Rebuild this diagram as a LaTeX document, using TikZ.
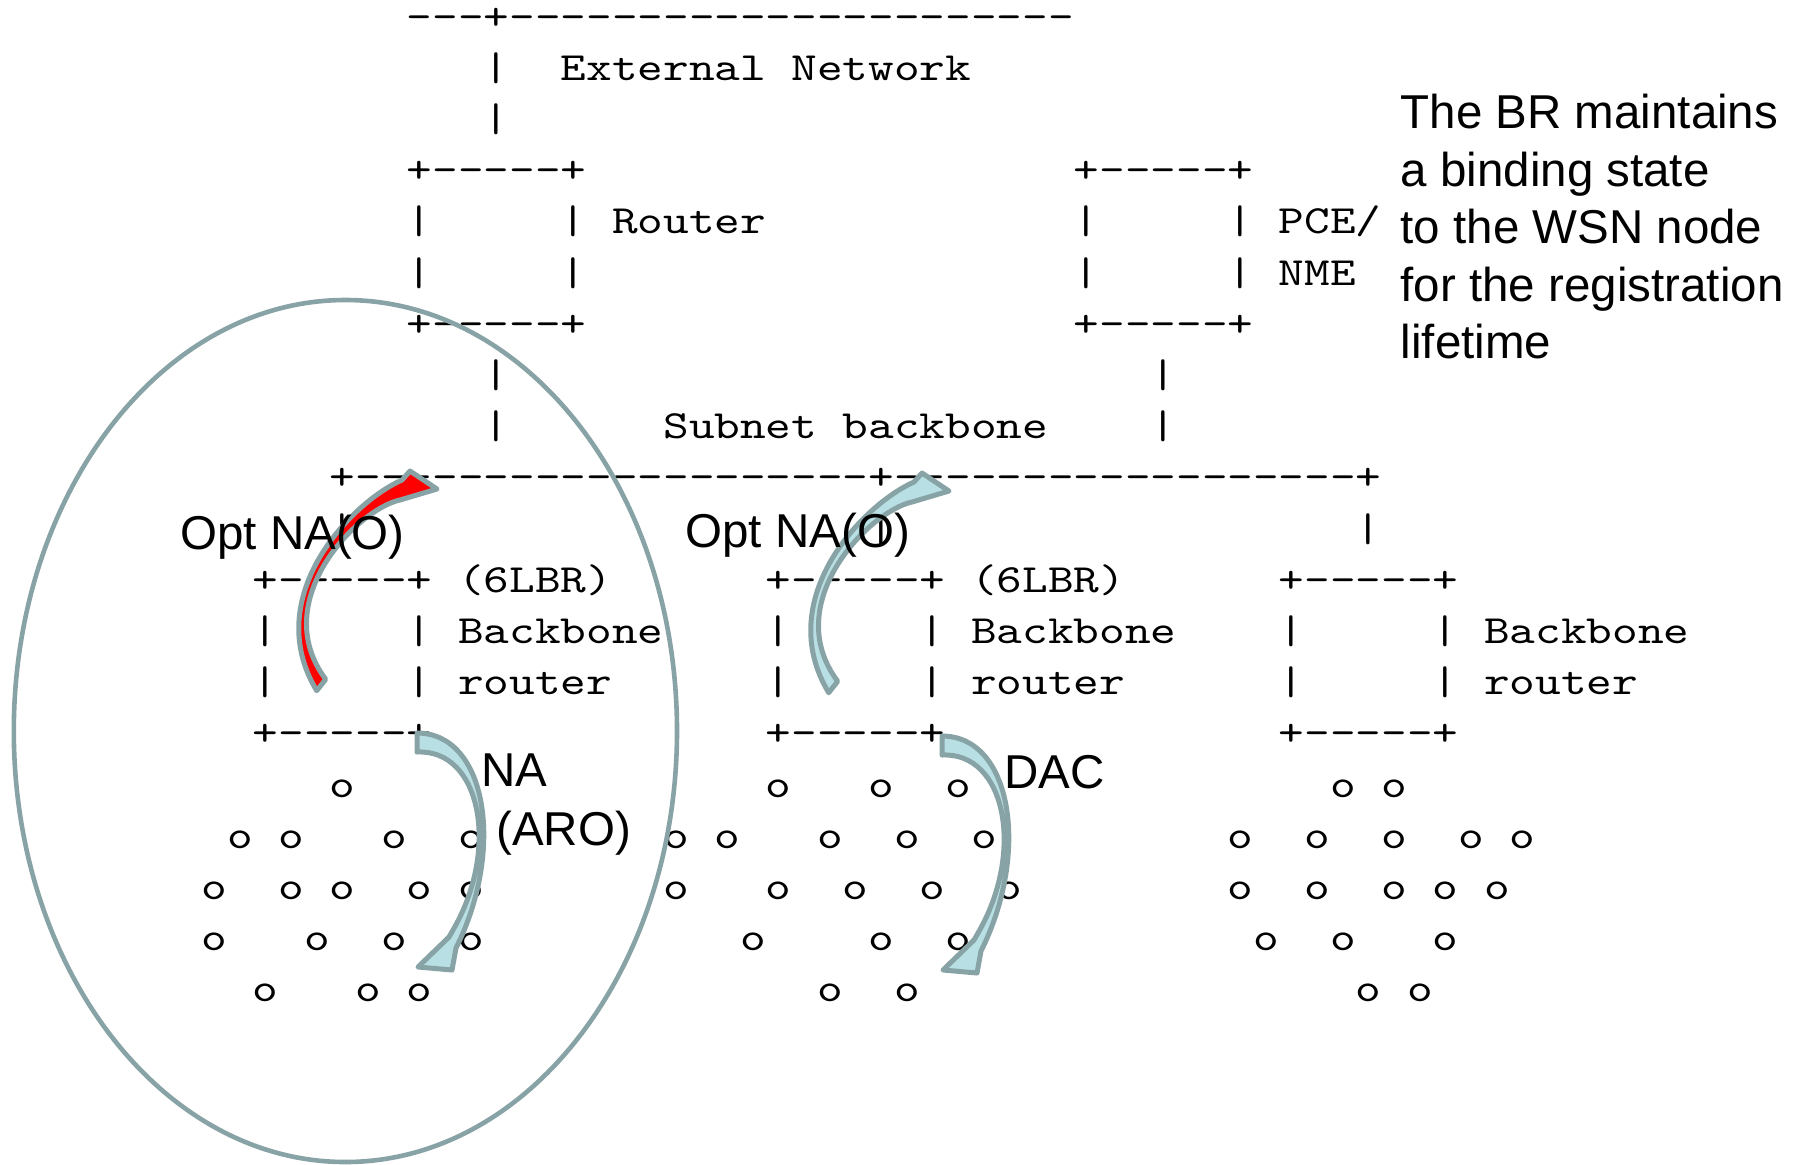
\documentclass[tikz,border=0pt]{standalone}
\usepackage{graphicx}
\usepackage{fontspec}
\newfontfamily\asciifont{lmmono10-regular.otf}
\newfontfamily\arialfont{Liberation Sans}
\definecolor{shapegray}{RGB}{136,163,166}
\definecolor{arrowcyan}{RGB}{184,224,228}
\definecolor{arrowred}{RGB}{255,0,0}
\newcommand\dsh[1]{\foreach\ii in {1,...,#1}{-\kern0pt}}
\newcommand\asc[4]{\node[ascii] (#1) at ({214.5+25.65*(#2)-12.825},{29+51.2*(#3)}) {\scalebox{1.2214}[1]{#4}};}
\tikzset{
  ascii/.style={anchor=base west, inner sep=0pt, outer sep=0pt,
    font=\asciifont\fontsize{20pt}{24pt}\selectfont},
  lbltext/.style={anchor=base west, inner sep=0pt, outer sep=0pt,
    font=\arialfont\fontsize{23.75pt}{28.75pt}\selectfont},
  arrowbody/.style={draw=shapegray, line width=2.5pt, line join=round},
  zone/.style={draw=shapegray, line width=2.3pt}
}
\begin{document}
\begin{tikzpicture}[x=0.5pt,y=-0.5pt]
\fill[white] (0,0) rectangle (1798,1164);
\useasboundingbox (0,0) rectangle (1798,1164);

% ---------- ASCII art ----------
\asc{top}{8}{0}{\dsh{3}+\dsh{22}}
\asc{ext1}{11}{1}{|}
\asc{extA}{14}{1}{External}
\asc{extB}{23}{1}{Network}
\asc{ext2}{11}{2}{|}
\asc{rtop}{8}{3}{+\dsh{5}+}
\asc{ptop}{34}{3}{+\dsh{5}+}
\asc{rl1}{8}{4}{|}
\asc{rr1}{14}{4}{|}
\asc{rlbl}{16}{4}{Router}
\asc{pl1}{34}{4}{|}
\asc{pr1}{40}{4}{|}
\asc{plbl}{42}{4}{PCE/}
\asc{rl2}{8}{5}{|}
\asc{rr2}{14}{5}{|}
\asc{pl2}{34}{5}{|}
\asc{pr2}{40}{5}{|}
\asc{plbl2}{42}{5}{NME}
\asc{rbot}{8}{6}{+\dsh{5}+}
\asc{pbot}{34}{6}{+\dsh{5}+}
\asc{rv1}{11}{7}{|}
\asc{pv1}{37}{7}{|}
\asc{rv2}{11}{8}{|}
\asc{subA}{18}{8}{Subnet}
\asc{subB}{25}{8}{backbone}
\asc{pv2}{37}{8}{|}
\asc{bb}{5}{9}{+\dsh{20}+\dsh{18}+}
\foreach \c in {5,26,45} {\asc{drop\c}{\c}{10}{|}}
\foreach \b/\c in {1/2,2/22,3/42} {
  \asc{br\b-top}{\c}{11}{+\dsh{5}+}
  \asc{br\b-l1}{\c}{12}{|}
  \asc{br\b-r1}{\c+6}{12}{|}
  \asc{br\b-name}{\c+8}{12}{Backbone}
  \asc{br\b-l2}{\c}{13}{|}
  \asc{br\b-r2}{\c+6}{13}{|}
  \asc{br\b-name2}{\c+8}{13}{router}
  \asc{br\b-bot}{\c}{14}{+\dsh{5}+}
}
\asc{lbrA}{10}{11}{(6LBR)}
\asc{lbrB}{30}{11}{(6LBR)}
% WSN nodes
\foreach \c in {5,22,26,29,44,46} {\asc{oA\c}{\c}{15}{o}}
\foreach \c in {1,3,7,10,18,20,24,27,30,40,43,46,49,51} {\asc{oB\c}{\c}{16}{o}}
\foreach \c in {0,3,5,8,10,18,22,25,28,31,40,43,46,48,50} {\asc{oC\c}{\c}{17}{o}}
\foreach \c in {0,4,7,10,21,26,29,41,44,48} {\asc{oD\c}{\c}{18}{o}}
\foreach \c in {2,6,8,24,27,45,47} {\asc{oE\c}{\c}{19}{o}}

% ---------- registration zone ----------
\draw[zone] (345.4,731) ellipse [x radius=165.8pt, y radius=215.5pt];

% ---------- curved block arrows ----------
% Opt NA(O), left (red)
\draw[arrowbody, fill=arrowred]
  (316.7,690.7) .. controls (259.9,596.4) and (351.6,502.1) .. (402,480)
  -- (410,471) -- (437,489) -- (400,500)
  .. controls (357.6,509) and (267,601) .. (325.7,679.3) -- cycle;
% Opt NA(O), middle (cyan)
\begin{scope}[shift={(512,2)}]
\draw[arrowbody, fill=arrowcyan]
  (316.7,690.7) .. controls (259.9,596.4) and (351.6,502.1) .. (402,480)
  -- (410,471) -- (437,489) -- (400,500)
  .. controls (357.6,509) and (267,601) .. (325.7,679.3) -- cycle;
\end{scope}
% NA (ARO)
\draw[arrowbody, fill=arrowcyan]
  (417,733) .. controls (487,733) and (505.3,849.7) .. (456,948)
  -- (452,970) -- (418,967) -- (449,937) -- (453,930)
  .. controls (500,849) and (481,749) .. (417,752) -- cycle;
% DAC
\begin{scope}[shift={(525,3)}]
\draw[arrowbody, fill=arrowcyan]
  (417,733) .. controls (487,733) and (505.3,849.7) .. (456,948)
  -- (452,970) -- (418,967) -- (449,937) -- (453,930)
  .. controls (500,849) and (481,749) .. (417,752) -- cycle;
\end{scope}

% ---------- labels ----------
\node[lbltext] (optL) at (180.3,549) {Opt NA(O)};
\node[lbltext] (optM) at (685.6,547) {Opt NA(O)};
\node[lbltext] (naA) at (481.4,786.7) {NA};
\node[lbltext] (naB) at (496.4,845) {(ARO)};
\node[lbltext] (dac) at (1004.6,788.3) {DAC};
\node[lbltext] (t1) at (1400.7,128.3) {The BR maintains};
\node[lbltext] (t2) at (1400.7,186) {a binding state};
\node[lbltext] (t3) at (1400.7,243.5) {to the WSN node};
\node[lbltext] (t4) at (1400.7,301) {for the registration};
\node[lbltext] (t5) at (1400.7,358.5) {lifetime};
\end{tikzpicture}
\end{document}
